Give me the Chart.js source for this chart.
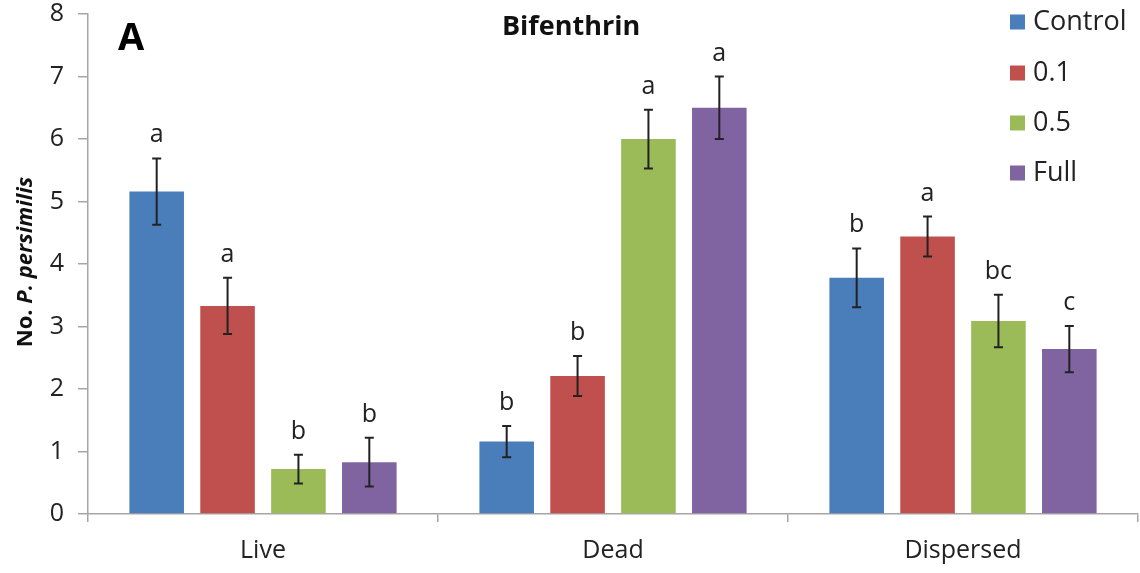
<!DOCTYPE html>
<html>
<head>
<meta charset="utf-8">
<script src="https://cdn.jsdelivr.net/npm/chart.js@4.4.1/dist/chart.umd.min.js"></script>
<style>
html,body{margin:0;padding:0;background:#fff;}
#wrap{width:1140px;height:573px;position:relative;}
</style>
</head>
<body>
<div id="wrap"><canvas id="c" width="1140" height="573"></canvas></div>
<script>
const categories = ["Live", "Dead", "Dispersed"];
const seriesNames = ["Control", "0.1", "0.5", "Full"];
const controlMean = [5.16, 1.16, 3.78];
const controlSE   = [0.53, 0.25, 0.47];
const conc01Mean  = [3.33, 2.21, 4.44];
const conc01SE    = [0.45, 0.32, 0.32];
const conc05Mean  = [0.72, 6.00, 3.09];
const conc05SE    = [0.23, 0.47, 0.42];
const fullMean    = [0.83, 6.50, 2.64];
const fullSE      = [0.39, 0.50, 0.37];
const controlLetters = ["a", "b", "b"];
const conc01Letters  = ["a", "b", "a"];
const conc05Letters  = ["b", "a", "bc"];
const fullLetters    = ["b", "a", "c"];
const yTicks = [0, 1, 2, 3, 4, 5, 6, 7, 8];

const colors = ["#4A7EBB", "#C0504D", "#9BBB59", "#8064A2"];
const means = [controlMean, conc01Mean, conc05Mean, fullMean];
const ses = [controlSE, conc01SE, conc05SE, fullSE];
const letters = [controlLetters, conc01Letters, conc05Letters, fullLetters];
const FONT = "'Open Sans', sans-serif";
const TXT = "#222222";

const datasets = seriesNames.map((n, i) => ({
  label: n,
  data: means[i],
  se: ses[i],
  letters: letters[i],
  backgroundColor: colors[i],
  borderWidth: 0,
  categoryPercentage: 0.81,
  barPercentage: 0.77
}));

const decorPlugin = {
  id: 'decor',
  afterDatasetsDraw(chart) {
    const ctx = chart.ctx;
    const y = chart.scales.y;
    ctx.save();
    chart.data.datasets.forEach((ds, i) => {
      const meta = chart.getDatasetMeta(i);
      meta.data.forEach((bar, j) => {
        const m = ds.data[j], s = ds.se[j];
        const yt = y.getPixelForValue(m + s);
        const yb = y.getPixelForValue(m - s);
        ctx.strokeStyle = "#222";
        ctx.lineWidth = 2;
        ctx.beginPath();
        ctx.moveTo(bar.x, yt); ctx.lineTo(bar.x, yb);
        ctx.moveTo(bar.x - 4.5, yt); ctx.lineTo(bar.x + 4.5, yt);
        ctx.moveTo(bar.x - 4.5, yb); ctx.lineTo(bar.x + 4.5, yb);
        ctx.stroke();
        ctx.fillStyle = TXT;
        ctx.font = "25px " + FONT;
        ctx.textAlign = "center";
        ctx.textBaseline = "alphabetic";
        ctx.fillText(ds.letters[j], bar.x, yt - 16);
      });
    });
    // panel letter
    ctx.fillStyle = "#000";
    ctx.font = "bold 38px " + FONT;
    ctx.textAlign = "left";
    ctx.fillText("A", 118, 50);
    // title
    ctx.font = "bold 27px " + FONT;
    ctx.textAlign = "center";
    ctx.fillStyle = "#111";
    ctx.fillText("Bifenthrin", 571, 35);
    // y title with mixed italic
    ctx.save();
    ctx.translate(32, 262);
    ctx.rotate(-Math.PI / 2);
    ctx.fillStyle = "#111";
    const p1 = "No. ", p2 = "P. persimilis";
    ctx.font = "bold 22px " + FONT;
    const w1 = ctx.measureText(p1).width;
    ctx.font = "italic bold 22px " + FONT;
    const w2 = ctx.measureText(p2).width;
    const start = -(w1 + w2) / 2;
    ctx.textAlign = "left";
    ctx.font = "bold 22px " + FONT;
    ctx.fillText(p1, start, 0);
    ctx.font = "italic bold 22px " + FONT;
    ctx.fillText(p2, start + w1, 0);
    ctx.restore();
    // legend
    const ly = [22, 73, 123, 173];
    chart.data.datasets.forEach((ds, i) => {
      ctx.fillStyle = ds.backgroundColor;
      ctx.fillRect(1010, ly[i] - 7.5, 15, 15);
      ctx.fillStyle = TXT;
      ctx.font = "27px " + FONT;
      ctx.textAlign = "left";
      ctx.textBaseline = "middle";
      ctx.fillText(ds.label, 1033, ly[i]);
    });
    ctx.restore();
  }
};

new Chart(document.getElementById('c'), {
  type: 'bar',
  data: { labels: categories, datasets },
  options: {
    responsive: false,
    animation: false,
    devicePixelRatio: 1,
    layout: { padding: { top: 14, right: 2, left: 0, bottom: 0 } },
    plugins: { legend: { display: false }, tooltip: { enabled: false } },
    scales: {
      x: {
        afterFit(s) { s.height = 59; s.paddingLeft = 0; s.paddingRight = 0; },
        grid: { offset: true, drawOnChartArea: false, drawTicks: true, tickLength: 8, color: "#a6a6a6", lineWidth: 1.5 },
        border: { color: "#a6a6a6", width: 1.5 },
        ticks: { color: TXT, font: { family: FONT, size: 25 }, padding: 14 }
      },
      y: {
        min: 0, max: 8,
        afterFit(s) { s.width = 88; s.paddingTop = 0; s.paddingBottom = 0; },
        afterBuildTicks(s) { s.ticks = yTicks.map(v => ({ value: v })); },
        grid: { drawOnChartArea: false, drawTicks: true, tickLength: 10, color: "#a6a6a6", lineWidth: 1.5 },
        border: { color: "#a6a6a6", width: 1.5 },
        ticks: { color: TXT, font: { family: FONT, size: 25 }, padding: 14 }
      }
    }
  },
  plugins: [decorPlugin]
});
</script>
</body>
</html>
